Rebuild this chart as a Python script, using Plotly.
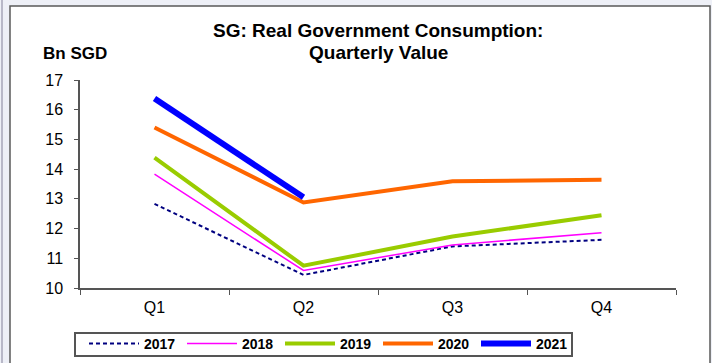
import plotly.graph_objects as go

# Quarterly real government consumption, Bn SGD
quarters = ["Q1", "Q2", "Q3", "Q4"]
y2017 = [12.83, 10.44, 11.40, 11.62]
y2018 = [13.83, 10.59, 11.45, 11.86]
y2019 = [14.39, 10.75, 11.73, 12.45]
y2020 = [15.40, 12.88, 13.59, 13.64]
y2021 = [16.38, 13.05]
y_ticks = [10, 11, 12, 13, 14, 15, 16, 17]

FONT = "Liberation Sans, Arial, sans-serif"

series = [
    ("2017", y2017, dict(color="#000080", width=2, dash="4px,3px")),
    ("2018", y2018, dict(color="#FF00FF", width=1.5)),
    ("2019", y2019, dict(color="#99CC00", width=4)),
    ("2020", y2020, dict(color="#FF6600", width=4)),
    ("2021", y2021, dict(color="#0000FF", width=6)),
]

fig = go.Figure()
for name, vals, line in series:
    fig.add_trace(go.Scatter(
        x=quarters[:len(vals)], y=vals, name=name, mode="lines",
        line=line, hoverinfo="x+y+name",
    ))

# plot area spans 80..676 px horizontally, 80..288 px vertically
L, R, T, B = 80, 676, 80, 288
W, H = 712, 363
pw, ph = R - L, B - T


def px(x):
    return (x - L) / pw


def py(y):
    return (B - y) / ph


# white chart frame on the light page background
fig.add_shape(type="rect", xref="paper", yref="paper",
              x0=px(10), x1=px(710), y0=py(370), y1=py(6),
              fillcolor="white", line=dict(color="#5A5A5A", width=1.5),
              layer="below")
fig.add_shape(type="line", xref="paper", yref="paper",
              x0=px(2), x1=px(2), y0=py(0), y1=py(363),
              line=dict(color="#B8B8C8", width=2), layer="below")
# legend box
fig.add_shape(type="rect", xref="paper", yref="paper",
              x0=px(75), x1=px(572), y0=py(356), y1=py(333),
              fillcolor="rgba(0,0,0,0)", line=dict(color="#555555", width=2))

title_font = dict(family=FONT, size=19, color="black")
fig.add_annotation(text="<b>SG: Real Government Consumption:</b>",
                   xref="paper", yref="paper", x=px(378), y=py(31),
                   xanchor="center", yanchor="middle", showarrow=False,
                   font=title_font)
fig.add_annotation(text="<b>Quarterly Value</b>",
                   xref="paper", yref="paper", x=px(378), y=py(52),
                   xanchor="center", yanchor="middle", showarrow=False,
                   font=title_font)
fig.add_annotation(text="<b>Bn SGD</b>", xref="paper", yref="paper",
                   x=px(41), y=py(53), xanchor="left", yanchor="middle",
                   showarrow=False, font=dict(family=FONT, size=17, color="black"))

fig.update_layout(
    width=W, height=H,
    margin=dict(l=L, r=W - R, t=T, b=H - B, pad=0),
    paper_bgcolor="#EEF0F7", plot_bgcolor="white",
    font=dict(family=FONT, size=16, color="black"),
    showlegend=True,
    legend=dict(orientation="h", xref="container", yref="container",
                x=84 / W, xanchor="left", y=1 - 328 / H, yanchor="top",
                borderwidth=0, bgcolor="rgba(0,0,0,0)",
                font=dict(family=FONT, size=14, color="black", weight="bold"),
                entrywidth=33, entrywidthmode="pixels", itemwidth=50,
                tracegroupgap=0),
    xaxis=dict(type="category", categoryorder="array", categoryarray=quarters,
               range=[-0.5, 3.5], tickson="boundaries", ticks="outside",
               ticklen=5, tickcolor="#555555", showline=True, linecolor="#555555",
               linewidth=1.5, showgrid=False, zeroline=False,
               ticklabelstandoff=4,
               tickfont=dict(family=FONT, size=16), fixedrange=True),
    yaxis=dict(range=[10, 17], tickvals=y_ticks, ticks="outside", ticklen=4,
               tickcolor="#555555", showline=True, linecolor="#555555",
               linewidth=1.5, showgrid=False, zeroline=False,
               ticklabelstandoff=8,
               tickfont=dict(family=FONT, size=16), fixedrange=True),
)

fig.write_html("out.html")
